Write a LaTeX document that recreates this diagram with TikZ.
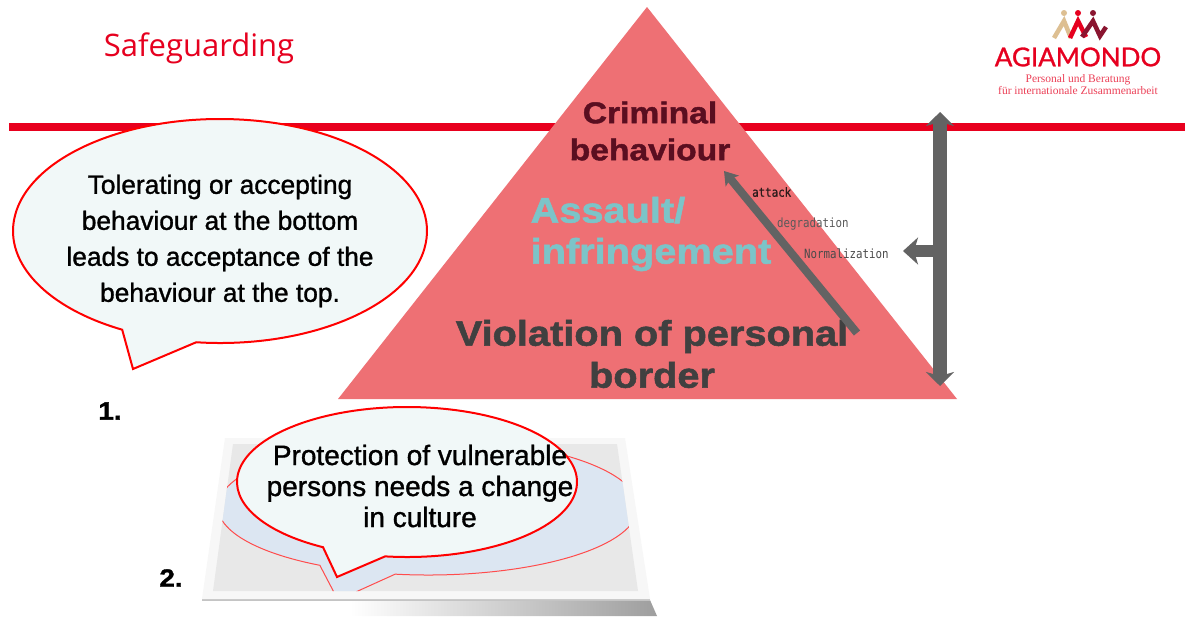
\documentclass[tikz,border=0pt]{standalone}
\usepackage{fontspec}
\usetikzlibrary{arrows.meta}
\setmainfont{Liberation Sans}
\newfontfamily\bubblefont[FakeBold=1.2]{Liberation Sans}
\newfontfamily\widefont[UprightFont=* Bold,FakeStretch=1.12,FakeBold=1.5]{Liberation Sans}
\newfontfamily\titlefont{Open Sans}
\newfontfamily\logofont[FakeBold=1]{Lato}
\newfontfamily\subfont{Liberation Serif}
\newfontfamily\monofont[FakeStretch=0.85]{DejaVu Sans Mono}
\newfontfamily\monoboldfont[FakeStretch=0.85,FakeBold=0.8]{DejaVu Sans Mono}
\definecolor{brandred}{HTML}{E6001F}
\definecolor{pyramid}{HTML}{EE7074}
\definecolor{bubble}{HTML}{F1F8F8}
\definecolor{shadowblue}{HTML}{DCE6F2}
\definecolor{barred}{HTML}{E8001E}
\definecolor{arrowgrey}{HTML}{636363}
\definecolor{logotan}{HTML}{DDBF92}
\definecolor{logodark}{HTML}{8A1530}
\definecolor{crimtext}{HTML}{5A0E20}
\definecolor{asstext}{HTML}{7CC4C8}
\definecolor{violtext}{HTML}{404040}
\definecolor{attacktext}{HTML}{2A1A1A}
\definecolor{degrtext}{HTML}{595959}
\definecolor{normtext}{HTML}{4A4A4A}
\definecolor{sheetedge}{HTML}{C4C4C4}
\definecolor{sheetwhite}{HTML}{F7F7F7}
\definecolor{sheetgrey}{HTML}{E8E8E8}
\tikzset{
  x=1pt,y=-1pt,
  bubbleline/.style={draw=red,line width=2pt,fill=bubble,line join=miter},
  bubbletext/.style={align=center,inner sep=0pt,text=black,font=\bubblefont\fontsize{26.3}{36}\selectfont},
  levellabel/.style={align=center,inner sep=0pt},
  smalllabel/.style={inner sep=0pt,anchor=west,font=\monofont\fontsize{12.7}{14}\selectfont},
  bigarrow/.style={draw=arrowgrey,line width=12pt,-{Stealth[length=15pt,width=27pt,inset=4pt]}},
  bigarrowboth/.style={draw=arrowgrey,line width=14pt,{Stealth[length=14pt,width=28pt,inset=4pt]}-{Stealth[length=14pt,width=28pt,inset=4pt]}},
  thinarrow/.style={draw=arrowgrey,line width=8pt,-{Stealth[length=13pt,width=17pt,inset=3pt]}},
  person/.style={line width=4.5pt,line join=miter},
  numlabel/.style={inner sep=0pt,font=\widefont\fontsize{25}{28}\selectfont,text=black},
}
\begin{document}
\begin{tikzpicture}
\useasboundingbox (0,0) rectangle (1185,616);
\fill[white] (0,0) rectangle (1185,616);

% top rule
\coordinate (ruleL) at (9,127);
\coordinate (ruleR) at (1185,127);
\draw[barred,line width=8pt] (ruleL) -- (ruleR);

\node[inner sep=0pt,text=brandred,font=\titlefont\fontsize{31}{34}\selectfont] (title) at (199,48) {Safeguarding};

% logo
\fill[logotan] (1064,13) circle (3);
\fill[brandred] (1078,13) circle (3);
\fill[logodark] (1093,13) circle (3);
\draw[person,logotan] (1054,38) -- (1064,21) -- (1071,38);
\draw[person,brandred] (1070,38) -- (1078,21) -- (1086,37);
\draw[person,logodark] (1082,37) -- (1093,21) -- (1100,36) -- (1106,27);
\node[inner sep=0pt,text=brandred,font=\logofont\fontsize{26}{30}\selectfont] (logo) at (1078,57) {AGIAMONDO};
\node[inner sep=0pt,text=brandred!75,font=\subfont\fontsize{11.5}{12}\selectfont] (logoa) at (1078,80) {Personal und Beratung};
\node[inner sep=0pt,text=brandred!75,font=\subfont\fontsize{11.5}{12}\selectfont] (logob) at (1078,91) {für internationale Zusammenarbeit};

% pyramid
\fill[pyramid] (647,7) -- (957,399) -- (338,399) -- cycle;

\node[levellabel,text=crimtext,font=\widefont\fontsize{30}{37}\selectfont] (crim) at (650,131) {Criminal\\behaviour};
\node[levellabel,text=asstext,font=\widefont\fontsize{35.5}{41}\selectfont,align=left] (assault) at (651,234) {Assault/\\infringement};
\node[levellabel,text=violtext,font=\widefont\fontsize{35.5}{42}\selectfont] (viol) at (652,354) {Violation of personal\\border};

\node[smalllabel,text=attacktext,font=\monoboldfont\fontsize{12.7}{14}\selectfont] (attack) at (752,192) {attack};
\node[smalllabel,text=degrtext] (degr) at (777,224) {degradation};
\node[smalllabel,text=normtext] (norm) at (804,254) {Normalization};

% arrows
\coordinate (diagS) at (857,333);
\coordinate (diagE) at (724,171);
\draw[thinarrow] (diagS) -- (diagE);
\coordinate (vT) at (940,112);
\coordinate (vB) at (940,386);
\coordinate (vM) at (940,251);
\coordinate (vTip) at (903,251);
\draw[bigarrow] (vM) -- (vTip);
\draw[bigarrowboth] (vT) -- (vB);

% callout 1
\draw[bubbleline] (220,231) ++(96.6:207 and 112) arc[start angle=96.6,end angle=-241.8,x radius=207,y radius=112] -- (133,369) -- cycle;
\node[bubbletext] (t1) at (220,241) {Tolerating or accepting\\behaviour at the bottom\\leads to acceptance of the\\behaviour at the top.};
\node[numlabel] (n1) at (110,411) {1.};

% sheet
\shade[left color=white,right color=black!38] (350,600) -- (650,600) -- (657,616) -- (350,616) -- cycle;
\fill[sheetedge] (202,598) -- (650,598) -- (650,601) -- (202,601) -- cycle;
\fill[sheetwhite] (225,438) -- (625,438) -- (650,599) -- (202,599) -- cycle;
\fill[sheetgrey] (233,444) -- (617,444) -- (638,591) -- (213,591) -- cycle;
\begin{scope}
  \clip (233,444) -- (617,444) -- (638,591) -- (213,591) -- cycle;
  \draw[draw=red!70,line width=1pt,fill=shadowblue] (428,507) ++(99:210 and 68) arc[start angle=99,end angle=-239,x radius=210,y radius=68] -- (338,600) -- cycle;
\end{scope}

% callout 2
\draw[bubbleline] (407,482) ++(97.4:170 and 75) arc[start angle=97.4,end angle=-240.4,x radius=170,y radius=75] -- (337,577) -- cycle;
\node[bubbletext,font=\bubblefont\fontsize{28}{31}\selectfont] (t2) at (420,486) {Protection of vulnerable\\persons needs a change\\in culture};
\node[numlabel] (n2) at (171,578) {2.};
\end{tikzpicture}
\end{document}
